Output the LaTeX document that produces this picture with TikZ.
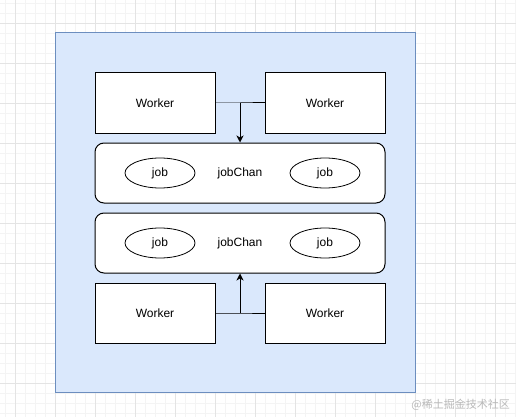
\documentclass[tikz,border=0pt]{standalone}
\usepackage{fontspec}
\setmainfont{Liberation Sans}
\newfontfamily\cjk{Noto Sans CJK SC}
\usetikzlibrary{arrows.meta,shapes.geometric}
\definecolor{gridmajor}{HTML}{E4E4E4}
\definecolor{gridminor}{HTML}{F4F4F4}
\definecolor{bluefill}{HTML}{DAE8FC}
\definecolor{blueline}{HTML}{6C8EBF}
\definecolor{wmark}{HTML}{B8B8B8}
\tikzset{
  workerbox/.style={draw=black, fill=white, line width=1pt, minimum width=120pt, minimum height=60pt, inner sep=0pt, font=\fontsize{12}{14}\selectfont},
  chanbox/.style={draw=black, fill=white, line width=1pt, rounded corners=9pt, minimum width=290pt, minimum height=60pt, inner sep=0pt, font=\fontsize{12}{14}\selectfont},
  jobell/.style={draw=black, fill=white, ellipse, line width=0.8pt, minimum width=70pt, minimum height=30pt, inner sep=0pt, font=\fontsize{12}{14}\selectfont},
  link/.style={draw=black, line width=1pt},
  arrowlink/.style={link, -{Stealth[length=7pt,width=7pt,inset=2pt]}},
}
\begin{document}
\begin{tikzpicture}[x=1pt,y=-1pt]
\useasboundingbox (0,0) rectangle (516,417);
% grid
\foreach \x in {5,15,...,515} \draw[gridminor, line width=0.8pt] (\x,0) -- (\x,417);
\foreach \y in {3,13,...,413} \draw[gridminor, line width=0.8pt] (0,\y) -- (516,\y);
\foreach \x in {15,55,...,515} \draw[gridmajor, line width=0.8pt] (\x,0) -- (\x,417);
\foreach \y in {23,63,...,413} \draw[gridmajor, line width=0.8pt] (0,\y) -- (516,\y);
% container
\node[draw=blueline, fill=bluefill, line width=1pt, minimum width=360pt, minimum height=359pt, inner sep=0pt] (frame) at (235,212.5) {};
% workers
\node[workerbox] (w1) at (155,103) {Worker};
\node[workerbox] (w2) at (325,103) {Worker};
\node[workerbox] (w3) at (155,313) {Worker};
\node[workerbox] (w4) at (325,313) {Worker};
% channels
\node[chanbox] (c1) at (240,173) {};
\node[chanbox] (c2) at (240,243) {};
\node[font=\fontsize{12}{14}\selectfont] (t1) at (240,173) {jobChan};
\node[font=\fontsize{12}{14}\selectfont] (t2) at (240,243) {jobChan};
\node[jobell] (j1) at (160,173) {job};
\node[jobell] (j2) at (325,173) {job};
\node[jobell] (j3) at (160,243) {job};
\node[jobell] (j4) at (325,243) {job};
% connectors
\coordinate (top) at (240,103);
\coordinate (bot) at (240,313);
\draw[link] (w1.east) -- (top) -- (w2.west);
\draw[arrowlink] (top) -- (c1.north);
\draw[link] (w3.east) -- (bot) -- (w4.west);
\draw[arrowlink] (bot) -- (c2.south);
% watermark
\node[text=wmark, font=\cjk\fontsize{11}{13}\selectfont, anchor=east, inner sep=0pt] (wm) at (510,405) {@稀土掘金技术社区};
\end{tikzpicture}
\end{document}
